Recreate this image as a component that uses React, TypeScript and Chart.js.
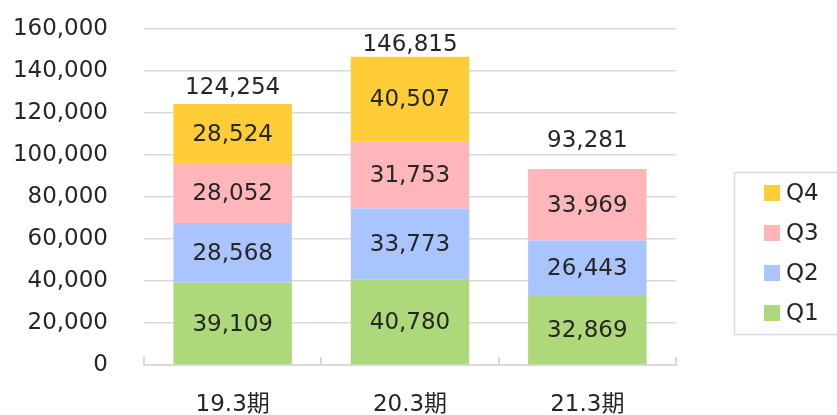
import React, { useEffect, useRef } from "react";
import { Chart, registerables } from "chart.js";

Chart.register(...registerables);

const categories = ["19.3期", "20.3期", "21.3期"];
const q1 = [39109, 40780, 32869];
const q2 = [28568, 33773, 26443];
const q3 = [28052, 31753, 33969];
const q4: (number | null)[] = [28524, 40507, null];
const totals = [124254, 146815, 93281];
const totalGaps = [10, 6, 22];
const yTicks = [0, 20000, 40000, 60000, 80000, 100000, 120000, 140000, 160000];

const seriesLabels = ["Q1", "Q2", "Q3", "Q4"];
const seriesColors = ["#AED97A", "#A9C4FF", "#FFB6BB", "#FFCD38"];

const FONT = "'DejaVu Sans', 'Noto Sans CJK JP', sans-serif";
const FSIZE = 23;
const TEXT = "#262626";
const GRID = "#d9d9d9";

const fmt = (v: number) => v.toLocaleString("en-US");

const labelPlugin = {
  id: "labels",
  afterDatasetsDraw(chart: any) {
    const ctx = chart.ctx;
    ctx.save();
    ctx.font = `${FSIZE}px ${FONT}`;
    ctx.fillStyle = TEXT;
    ctx.textAlign = "center";
    ctx.textBaseline = "middle";
    chart.data.datasets.forEach((ds: any, di: number) => {
      const meta = chart.getDatasetMeta(di);
      meta.data.forEach((el: any, i: number) => {
        const v = ds.data[i];
        if (v == null) return;
        ctx.fillText(fmt(v), el.x, (el.y + el.base) / 2 + 1);
      });
    });
    const yScale = chart.scales.y;
    const xScale = chart.scales.x;
    ctx.textBaseline = "alphabetic";
    totals.forEach((t, i) => {
      const x = xScale.getPixelForValue(i);
      const y = yScale.getPixelForValue(t) - totalGaps[i];
      ctx.fillText(fmt(t), x, y);
    });
    const area = chart.chartArea;
    ctx.strokeStyle = GRID;
    ctx.lineWidth = 2;
    for (let i = 0; i <= categories.length; i++) {
      const x = Math.round(xScale.getPixelForValue(i - 0.5));
      ctx.beginPath();
      ctx.moveTo(x, area.bottom - 8);
      ctx.lineTo(x, area.bottom + 1);
      ctx.stroke();
    }
    ctx.restore();
  },
  afterDraw(chart: any) {
    const ctx = chart.ctx;
    ctx.save();
    ctx.strokeStyle = GRID;
    ctx.lineWidth = 1.5;
    ctx.strokeRect(734.5, 172.5, 120, 162);
    ctx.font = `${FSIZE}px ${FONT}`;
    ctx.textAlign = "left";
    ctx.textBaseline = "middle";
    const n = chart.data.datasets.length;
    for (let k = 0; k < n; k++) {
      const di = n - 1 - k;
      const ds = chart.data.datasets[di];
      const cy = 193 + k * 40;
      ctx.fillStyle = ds.backgroundColor;
      ctx.fillRect(764, cy - 8, 16, 16);
      ctx.fillStyle = TEXT;
      ctx.fillText(ds.label, 786, cy + 1);
    }
    ctx.restore();
  },
};

export default function App() {
  const ref = useRef<HTMLCanvasElement | null>(null);
  useEffect(() => {
    if (!ref.current) return;
    const dataSets = [q1, q2, q3, q4].map((d, i) => ({
      label: seriesLabels[i],
      data: d,
      backgroundColor: seriesColors[i],
      borderWidth: 0,
      barPercentage: 0.668,
      categoryPercentage: 1,
    }));
    const chart = new Chart(ref.current, {
      type: "bar",
      data: { labels: categories, datasets: dataSets as any },
      options: {
        responsive: false,
        animation: false,
        layout: { padding: { left: 0, top: 29, right: 161, bottom: 0 } },
        plugins: { legend: { display: false }, tooltip: { enabled: false } },
        scales: {
          x: {
            stacked: true,
            grid: { display: false, drawTicks: false },
            border: { display: true, color: GRID, width: 2 },
            ticks: { color: TEXT, font: { family: FONT, size: FSIZE }, padding: 26 },
            afterFit: (s: any) => {
              s.height = 50;
            },
          },
          y: {
            stacked: true,
            min: 0,
            max: 160000,
            afterBuildTicks: (s: any) => {
              s.ticks = yTicks.map((v) => ({ value: v }));
            },
            grid: {
              color: GRID,
              lineWidth: 1.5,
              drawTicks: true,
              tickLength: 36,
              tickColor: "rgba(0,0,0,0)",
            },
            border: { display: false },
            ticks: {
              color: TEXT,
              font: { family: FONT, size: FSIZE },
              padding: 0,
              callback: (v: any) => fmt(Number(v)),
            },
            afterFit: (s: any) => {
              s.width = 144;
            },
          },
        },
      },
      plugins: [labelPlugin],
    });
    return () => chart.destroy();
  }, []);
  return (
    <div style={{ position: "fixed", left: 0, top: 0, width: 837, height: 415, background: "#fff" }}>
      <canvas ref={ref} width={837} height={415} />
    </div>
  );
}
